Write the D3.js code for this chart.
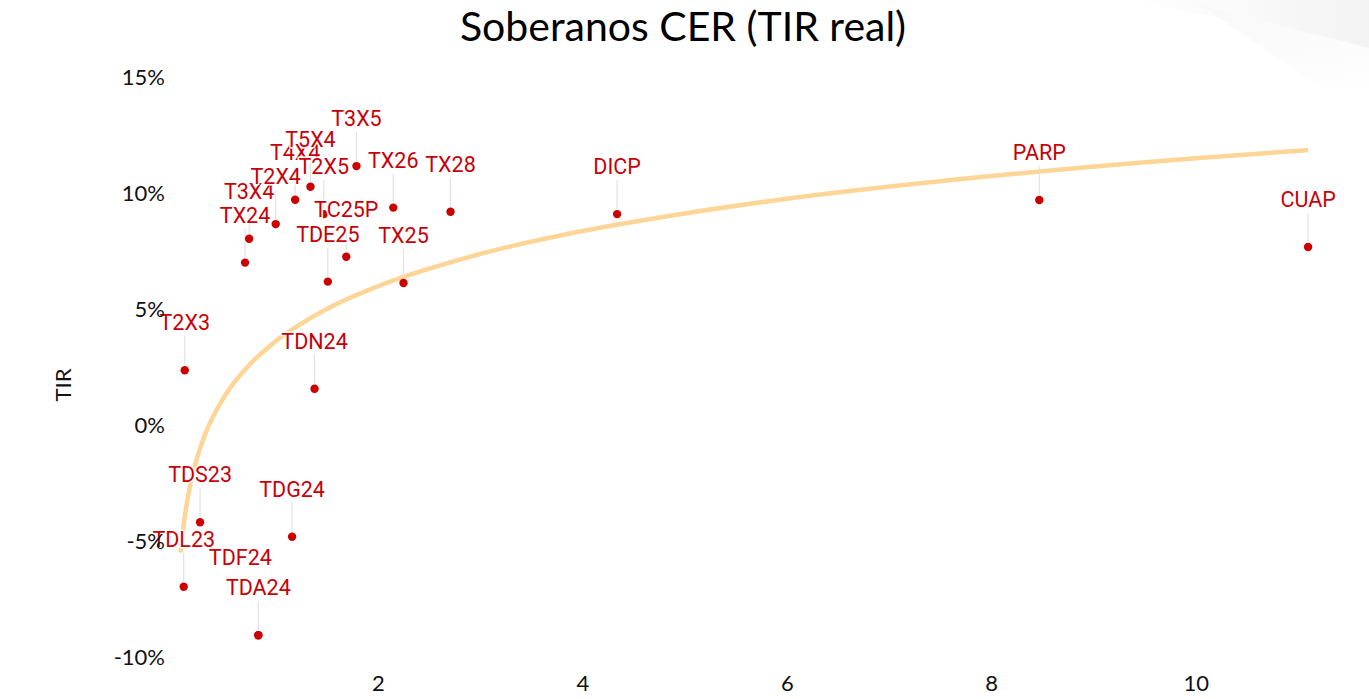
<!DOCTYPE html>
<html lang="es">
<head>
    <meta charset="UTF-8">
    <title>Soberanos CER (TIR real)</title>
    <script src="https://d3js.org/d3.v7.min.js"></script>
    <style>
        body { margin: 0; background: #fff; }
        .title { font-family: Lato, sans-serif; font-size: 41px; fill: #000; }
        .ytick { font-family: Lato, sans-serif; font-size: 22px; fill: #111; }
        .xtick { font-family: Lato, sans-serif; font-size: 22px; fill: #111; }
        .ylabel { font-family: Lato, sans-serif; font-size: 22px; fill: #111; }
        .dlabel {
            font-family: Roboto, sans-serif; font-size: 21.5px; fill: #c8000a;
            stroke: #fff; stroke-width: 3px; paint-order: stroke; stroke-linejoin: round;
        }
    </style>
</head>
<body>
<svg id="chart" width="1369" height="699"></svg>
<script>
    // Bonos y valores (duration en años, TIR real en %)
    const bonds = ["T2X3", "TDL23", "TDS23", "TDF24", "TDA24", "TDG24", "TX24", "T3X4", "T2X4", "T4X4",
                   "T5X4", "TDN24", "T2X5", "TDE25", "TC25P", "T3X5", "TX25", "TX26", "TX28", "DICP", "PARP", "CUAP"];
    const duration = [0.11, 0.10, 0.26, 0.83, 0.83, 1.16, 0.70, 0.74, 1.00, 1.19,
                      1.34, 1.38, 1.47, 1.51, 1.69, 1.79, 2.25, 2.15, 2.71, 4.34, 8.47, 11.10];
    const tir = [2.36, -6.97, -4.19, -9.06, -9.06, -4.82, 7.00, 8.03, 8.66, 9.71,
                 10.27, 1.56, 9.09, 6.18, 7.25, 11.16, 6.12, 9.37, 9.19, 9.09, 9.70, 7.67];

    // Curva de tendencia
    const trendX = [0.07, 0.1, 0.15, 0.2, 0.3, 0.5, 0.75, 1, 1.5, 2, 3, 4, 5, 6, 8, 10, 11.1];
    const trendY = [-5.5, -4.28, -2.89, -1.9, -0.51, 1.24, 2.63, 3.61, 5.0, 5.98, 7.37, 8.36, 9.12, 9.75, 10.73, 11.5, 11.85];

    const xTicks = [2, 4, 6, 8, 10];
    const yTicks = [-10, -5, 0, 5, 10, 15];

    // etiquetas desplazadas por colisión [dx, dy]
    const labelShift = { TDF24: [-18, -30] };

    const svg = d3.select("#chart");

    const x = d3.scaleLinear().domain([0, 11.5]).range([173.5, 1349]);
    const y = d3.scaleLinear().domain([-10, 15]).range([657, 77]);

    // sombra gris arriba a la derecha
    const defs = svg.append("defs");
    const grad = defs.append("linearGradient").attr("id", "shade")
        .attr("x1", "0").attr("y1", "0").attr("x2", "1").attr("y2", "0");
    grad.append("stop").attr("offset", "0").attr("stop-color", "#fff");
    grad.append("stop").attr("offset", "1").attr("stop-color", "#f3f3f3");
    svg.append("path")
        .attr("d", "M1130,0 L1369,0 L1369,48 Z")
        .attr("fill", "url(#shade)");
    const grad2 = defs.append("linearGradient").attr("id", "shade2")
        .attr("x1", "0").attr("y1", "0").attr("x2", "0.3").attr("y2", "1");
    grad2.append("stop").attr("offset", "0").attr("stop-color", "#f8f8f8");
    grad2.append("stop").attr("offset", "1").attr("stop-color", "#fff");
    svg.append("path")
        .attr("d", "M1200,5 L1369,48 L1369,120 Z")
        .attr("fill", "url(#shade2)");

    svg.append("text").attr("class", "title")
        .attr("x", 683).attr("y", 41)
        .attr("text-anchor", "middle")
        .text("Soberanos CER (TIR real)");

    const xAxis = svg.append("g")
        .attr("transform", "translate(0,675)")
        .call(d3.axisBottom(x).tickValues(xTicks).tickSize(0).tickPadding(0));
    xAxis.select(".domain").remove();
    xAxis.selectAll("text").attr("class", "xtick").attr("font-size", null).attr("font-family", null).attr("fill", null);

    svg.append("text").attr("class", "ylabel")
        .attr("transform", "translate(71,385) rotate(-90)")
        .attr("text-anchor", "middle")
        .text("TIR");

    // tendencia
    const trend = trendX.map((d, i) => [d, trendY[i]]);
    svg.append("path")
        .datum(trend)
        .attr("fill", "none")
        .attr("stroke", "#fdd597")
        .attr("stroke-width", 4.5)
        .attr("d", d3.line().x(d => x(d[0])).y(d => y(d[1])).curve(d3.curveMonotoneX));

    const pts = bonds.map((b, i) => ({ name: b, dx: duration[i], tir: tir[i] }));

    // conectores
    svg.append("g").selectAll("line")
        .data(pts.filter(d => !labelShift[d.name]))
        .enter().append("line")
        .attr("x1", d => x(d.dx)).attr("x2", d => x(d.dx))
        .attr("y1", d => y(d.tir) - 34).attr("y2", d => y(d.tir) - 5)
        .attr("stroke", "#e2e2e2").attr("stroke-width", 1.2);

    // puntos
    svg.append("g").selectAll("circle")
        .data(pts)
        .enter().append("circle")
        .attr("cx", d => x(d.dx)).attr("cy", d => y(d.tir))
        .attr("r", 4.2)
        .attr("fill", "#cc0000");

    // etiquetas
    svg.append("g").selectAll("text")
        .data(pts)
        .enter().append("text")
        .attr("class", "dlabel")
        .attr("x", d => x(d.dx) + (labelShift[d.name] ? labelShift[d.name][0] : 0))
        .attr("y", d => y(d.tir) - 40 + (labelShift[d.name] ? labelShift[d.name][1] : 0))
        .attr("text-anchor", "middle")
        .text(d => d.name);

    // eje y encima de las etiquetas
    const yAxis = svg.append("g")
        .attr("transform", "translate(165,0)")
        .call(d3.axisLeft(y).tickValues(yTicks).tickSize(0).tickPadding(0).tickFormat(d => d + "%"));
    yAxis.select(".domain").remove();
    yAxis.selectAll("text").attr("class", "ytick").attr("font-size", null).attr("font-family", null).attr("fill", null);
</script>
</body>
</html>
